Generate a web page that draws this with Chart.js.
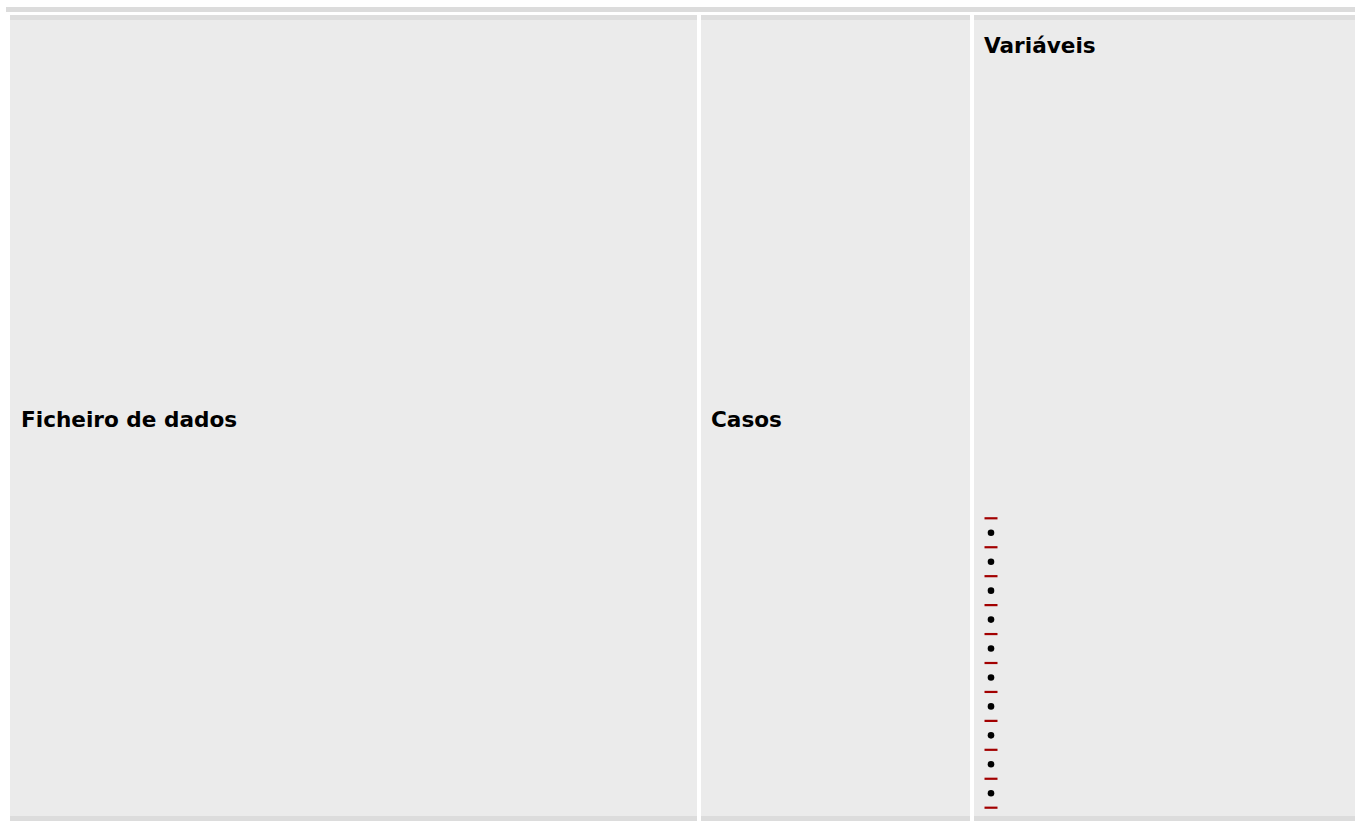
<!DOCTYPE html>
<html>
<head>
<meta charset="utf-8">
<script src="https://cdn.jsdelivr.net/npm/chart.js@4.4.1/dist/chart.umd.min.js"></script>
<style>
  html, body { margin: 0; padding: 0; background: #fff; width: 1355px; height: 821px; overflow: hidden; }
  body { position: relative; font-family: 'DejaVu Sans', sans-serif; }
  .bar { position: absolute; left: 6px; right: 0; top: 7px; height: 5px; background: #dcdcdc; }
  .cell { position: absolute; top: 15px; height: 806px; background: #ebebeb;
          border-top: 5px solid #dedede; border-bottom: 5px solid #dcdcdc; box-sizing: border-box; }
  .lbl { position: absolute; font-weight: bold; font-size: 21.6px; color: #000; white-space: nowrap; line-height: normal; }
  #list-wrap { position: absolute; left: 974px; top: 500px; width: 34px; height: 320px; }
</style>
</head>
<body>
<div class="bar"></div>
<div class="cell" style="left:10px; width:687px;"></div>
<div class="cell" style="left:701px; width:269px;"></div>
<div class="cell" style="left:974px; width:381px;"></div>

<div class="lbl" style="left:21px; top:406.5px;">Ficheiro de dados</div>
<div class="lbl" style="left:711px; top:406.5px;">Casos</div>
<div class="lbl" style="left:984px; top:33px;">Variáveis</div>

<div id="list-wrap"><canvas id="list-canvas" width="34" height="320"></canvas></div>

<script>
(function () {
  'use strict';

  // Rows of the "Variáveis" list: red rule markers and bullets between them
  const dashRows = [0, 1, 2, 3, 4, 5, 6, 7, 8, 9, 10];
  const bulletRows = [0.5, 1.5, 2.5, 3.5, 4.5, 5.5, 6.5, 7.5, 8.5, 9.5];

  const ctx = document.getElementById('list-canvas').getContext('2d');

  new Chart(ctx, {
    type: 'scatter',
    data: {
      datasets: [
        {
          label: 'rules',
          data: dashRows.map(function (r) { return { x: 0, y: r }; }),
          pointStyle: 'line',
          pointRadius: 6.5,
          borderColor: '#a20000',
          borderWidth: 2.2
        },
        {
          label: 'bullets',
          data: bulletRows.map(function (r) { return { x: 0, y: r }; }),
          pointStyle: 'circle',
          pointRadius: 3.3,
          backgroundColor: '#000',
          borderColor: '#000',
          borderWidth: 0
        }
      ]
    },
    options: {
      responsive: false,
      animation: false,
      devicePixelRatio: 1,
      layout: { padding: 0, autoPadding: false },
      plugins: { legend: { display: false }, tooltip: { enabled: false } },
      scales: {
        x: { display: false, min: -1, max: 1 },
        y: { display: false, reverse: true, min: -0.632, max: 10.425 }
      }
    }
  });
})();
</script>
</body>
</html>
